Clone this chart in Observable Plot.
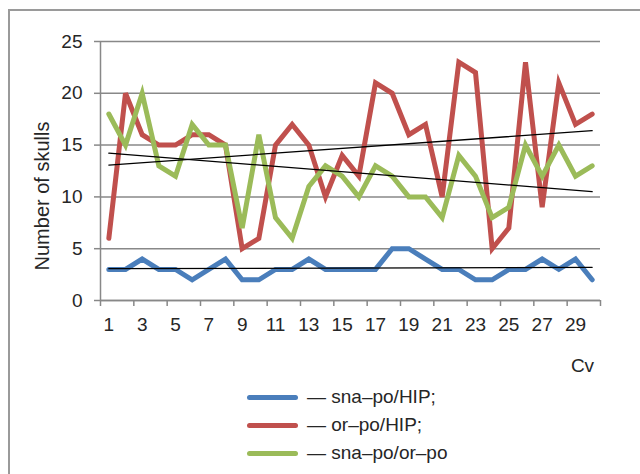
<!DOCTYPE html>
<html><head><meta charset="utf-8">
<script src="https://cdn.jsdelivr.net/npm/d3@7"></script>
<script src="https://cdn.jsdelivr.net/npm/@observablehq/plot@0.6"></script>
<style>
body{margin:0;background:#fff;font-family:"Liberation Sans",Arial,sans-serif;}
#wrap{position:relative;width:640px;height:474px;overflow:hidden;}
#frame{position:absolute;left:8px;top:9px;right:-10px;bottom:-10px;border-left:2px solid #9a9a9a;border-top:2px solid #9a9a9a;pointer-events:none;}
#chart{position:absolute;left:0;top:0;}
#ytitle{position:absolute;left:42px;top:196px;transform:translate(-50%,-50%) rotate(-90deg);font-size:20px;color:#262626;white-space:nowrap;}
#legend{position:absolute;left:247px;top:383px;}
.row{display:flex;align-items:center;height:28px;font-size:19px;color:#262626;white-space:nowrap}
.sw{width:51px;height:5px;border-radius:3px;margin-right:9px}
</style></head>
<body>
<div id="wrap"><div id="frame"></div><div id="chart"></div><div id="ytitle"></div><div id="legend"></div></div>
<script>
const cv = [1,2,3,4,5,6,7,8,9,10,11,12,13,14,15,16,17,18,19,20,21,22,23,24,25,26,27,28,29,30];
const snaPoHip = [3,3,4,3,3,2,3,4,2,2,3,3,4,3,3,3,3,5,5,4,3,3,2,2,3,3,4,3,4,2];
const orPoHip = [6,20,16,15,15,16,16,15,5,6,15,17,15,10,14,12,21,20,16,17,10,23,22,5,7,23,9,21,17,18];
const snaPoOrPo = [18,15,20,13,12,17,15,15,7,16,8,6,11,13,12,10,13,12,10,10,8,14,12,8,9,15,12,15,12,13];
const seriesNames = ["sna–po/HIP;", "or–po/HIP;", "sna–po/or–po"];
const seriesColors = ["#4A7EBB", "#C0504D", "#9BBB59"];
const xTickLabels = [1,3,5,7,9,11,13,15,17,19,21,23,25,27,29];
const yTicks = [0,5,10,15,20,25];
const yTitle = "Number of skulls";
const xTitle = "Cv";

const seriesValues = [snaPoHip, orPoHip, snaPoOrPo];
const data = seriesValues.flatMap((vals, s) => vals.map((v, i) => ({cv: cv[i], value: v, series: seriesNames[s]})));
const xBounds = xTickLabels.map(d => d - 0.5).concat([cv[cv.length - 1] + 0.5]);
const grey = "#888888";
const ink = "#262626";

const marks = [
  Plot.gridY(yTicks, {stroke: grey, strokeOpacity: 1, strokeWidth: 1.5}),
  Plot.ruleX([0.5], {stroke: grey, strokeWidth: 1.5}),
  Plot.ruleY([0], {stroke: grey, strokeWidth: 1.5}),
  Plot.axisY(yTicks, {tickSize: 6, tickPadding: 12, fontSize: 19, fill: ink, stroke: grey, strokeWidth: 1.5, label: null}),
  Plot.axisX(xBounds, {tickSize: 6, tickFormat: () => "", stroke: grey, strokeWidth: 1.5, label: null}),
  Plot.axisX(xTickLabels, {tickSize: 0, tickPadding: 17, fontSize: 19, fill: ink, label: null}),
];
seriesNames.forEach((name, s) => {
  marks.push(Plot.line(data.filter(d => d.series === name), {x: "cv", y: "value", stroke: seriesColors[s], strokeWidth: 5, strokeLinejoin: "miter", strokeMiterlimit: 4, strokeLinecap: "round"}));
});
seriesNames.forEach((name) => {
  marks.push(Plot.linearRegressionY(data.filter(d => d.series === name), {x: "cv", y: "value", stroke: "#000", strokeWidth: 1.3, ci: 0}));
});
marks.push(Plot.text([xTitle], {frameAnchor: "bottom-right", textAnchor: "middle", lineAnchor: "middle", dx: -18, dy: 65, fontSize: 19, fill: ink}));

const chart = Plot.plot({
  width: 640,
  height: 380,
  marginLeft: 100,
  marginRight: 40,
  marginTop: 41,
  marginBottom: 80,
  style: {fontFamily: '"Liberation Sans", Arial, sans-serif', background: "transparent", overflow: "visible"},
  x: {type: "linear", domain: [0.5, 30.5]},
  y: {domain: [0, 25]},
  marks
});
document.getElementById("chart").appendChild(chart);
document.getElementById("ytitle").textContent = yTitle;

const legend = document.getElementById("legend");
seriesNames.forEach((name, s) => {
  const row = document.createElement("div");
  row.className = "row";
  const sw = document.createElement("span");
  sw.className = "sw";
  sw.style.background = seriesColors[s];
  const t = document.createElement("span");
  t.textContent = "— " + name;
  row.appendChild(sw); row.appendChild(t);
  legend.appendChild(row);
});
</script>
</body></html>
